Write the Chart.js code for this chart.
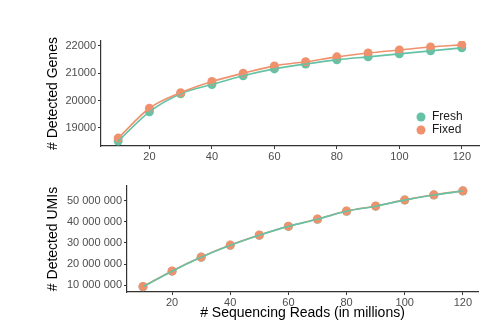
<!DOCTYPE html>
<html>
<head>
<meta charset="utf-8">
<script src="https://cdn.jsdelivr.net/npm/chart.js@4/dist/chart.umd.min.js"></script>
<style>
  html, body { margin: 0; padding: 0; background: #fff; }
  #wrap { position: relative; width: 489px; height: 330px; }
  #wrap canvas { position: absolute; left: 0; }
</style>
</head>
<body>
<div id="wrap">
  <canvas id="genes_plot" width="489" height="165" style="top:0"></canvas>
  <canvas id="umis_plot" width="489" height="165" style="top:165px"></canvas>
</div>
<script>
'use strict';

// sequencing depth (millions of reads)
const READS = [10, 20, 30, 40, 50, 60, 70, 80, 90, 100, 110, 120];

// detected genes per depth
const GENES_FRESH = [18520, 19590, 20250, 20590, 20910, 21160, 21340, 21490, 21600, 21710, 21820, 21930];
const GENES_FIXED = [18630, 19720, 20290, 20700, 21000, 21270, 21420, 21600, 21740, 21850, 21960, 22040];

// detected UMIs per depth
const UMIS_FRESH = [9150000, 16600000, 23200000, 28900000, 33700000, 37900000, 41300000, 45100000, 47500000, 50400000, 52800000, 54700000];
const UMIS_FIXED = [9300000, 16700000, 23300000, 29000000, 33800000, 38000000, 41400000, 45200000, 47600000, 50500000, 52900000, 54800000];

// tick labels
const X_TICKS = [20, 40, 60, 80, 100, 120];
const GENES_TICKS = [19000, 20000, 21000, 22000];
const UMIS_TICKS = [10000000, 20000000, 30000000, 40000000, 50000000];

const SERIES = ['Fresh', 'Fixed'];
const COL_FRESH = '#66c2a5';
const COL_FIXED = '#f0916d';

const FONT = "'Liberation Sans', Arial, sans-serif";
Chart.defaults.font.family = FONT;
Chart.defaults.color = '#4d4d4d';

function pts(values) {
    return READS.map((r, i) => ({ x: r, y: values[i] }));
}

function pointSet(label, values, col, order) {
    return {
        label: label, data: pts(values), showLine: false,
        pointRadius: 4.5, pointHoverRadius: 4.5,
        pointBackgroundColor: col, pointBorderWidth: 0, order: order
    };
}

function lineSet(values, col, order) {
    return {
        label: '', data: pts(values), showLine: true,
        borderColor: col, borderWidth: 1.6,
        pointRadius: 0, pointHoverRadius: 0, cubicInterpolationMode: 'monotone',
        fill: false, order: order
    };
}

function spaced(v) {
    return String(v).replace(/\B(?=(\d{3})+(?!\d))/g, ' ');
}

// legend drawn inside the panel, bottom right
const innerLegend = {
    id: 'innerLegend',
    afterDatasetsDraw(chart, args, opts) {
        if (!opts.show) return;
        const ctx = chart.ctx;
        const a = chart.chartArea;
        const cols = [COL_FRESH, COL_FIXED];
        ctx.save();
        ctx.font = '12px ' + FONT;
        ctx.textBaseline = 'middle';
        SERIES.forEach((name, i) => {
            const y = a.bottom - 29 + i * 13;
            ctx.beginPath();
            ctx.arc(a.right - 58, y, 4.5, 0, Math.PI * 2);
            ctx.fillStyle = cols[i];
            ctx.fill();
            ctx.fillStyle = '#1a1a1a';
            ctx.fillText(name, a.right - 47, y);
        });
        ctx.restore();
    }
};

function makeConfig(p) {
    return {
        type: 'scatter',
        data: { datasets: p.datasets },
        options: {
            responsive: false,
            animation: false,
            layout: { padding: p.padding },
            plugins: {
                legend: { display: false },
                tooltip: { enabled: false },
                innerLegend: { show: p.legend }
            },
            scales: {
                x: {
                    type: 'linear', min: 4.5, max: p.xMax,
                    afterBuildTicks: (s) => { s.ticks = X_TICKS.map(v => ({ value: v })); },
                    afterFit: (s) => { s.height = p.xHeight; },
                    border: { display: true, color: '#333', width: 1.2 },
                    grid: { drawOnChartArea: false, tickLength: 3, color: '#333' },
                    ticks: { font: { size: 11 }, padding: 1, maxRotation: 0 },
                    title: {
                        display: !!p.xTitle, text: p.xTitle || '', color: '#000',
                        font: { size: 14 }, padding: { top: 0, bottom: 8 }
                    }
                },
                y: {
                    type: 'linear', min: p.yMin, max: p.yMax,
                    afterBuildTicks: (s) => { s.ticks = p.yTicks.map(v => ({ value: v })); },
                    afterFit: (s) => { s.width = p.yWidth; },
                    border: { display: true, color: '#333', width: 1.2 },
                    grid: { drawOnChartArea: false, tickLength: 3, color: '#333' },
                    ticks: { font: { size: 11 }, padding: 2, callback: p.fmt },
                    title: {
                        display: true, text: p.yTitle, color: '#000',
                        font: { size: 14 }, padding: { top: 45, bottom: 0 }
                    }
                }
            }
        },
        plugins: [innerLegend]
    };
}

// upper panel: detected genes
new Chart(document.getElementById('genes_plot'), makeConfig({
    datasets: [
        lineSet(GENES_FIXED, COL_FIXED, 0),
        lineSet(GENES_FRESH, COL_FRESH, 1),
        pointSet('Fixed', GENES_FIXED, COL_FIXED, 2),
        pointSet('Fresh', GENES_FRESH, COL_FRESH, 3)
    ],
    padding: { top: 41, right: 10, left: 0, bottom: 0 },
    xMax: 125.5, xHeight: 19,
    yMin: 18340, yMax: 22180, yTicks: GENES_TICKS, yWidth: 101,
    yTitle: '# Detected Genes', fmt: (v) => String(v),
    legend: true
}));

// lower panel: detected UMIs
new Chart(document.getElementById('umis_plot'), makeConfig({
    datasets: [
        lineSet(UMIS_FRESH, COL_FRESH, 0),
        lineSet(UMIS_FIXED, COL_FIXED, 1),
        pointSet('Fixed', UMIS_FIXED, COL_FIXED, 2),
        pointSet('Fresh', UMIS_FRESH, COL_FRESH, 3)
    ],
    padding: { top: 21, right: 11, left: 0, bottom: 0 },
    xMax: 125.2, xHeight: 38, xTitle: '# Sequencing Reads (in millions)',
    yMin: 6700000, yMax: 57100000, yTicks: UMIS_TICKS, yWidth: 127,
    yTitle: '# Detected UMIs', fmt: spaced,
    legend: false
}));
</script>
</body>
</html>
